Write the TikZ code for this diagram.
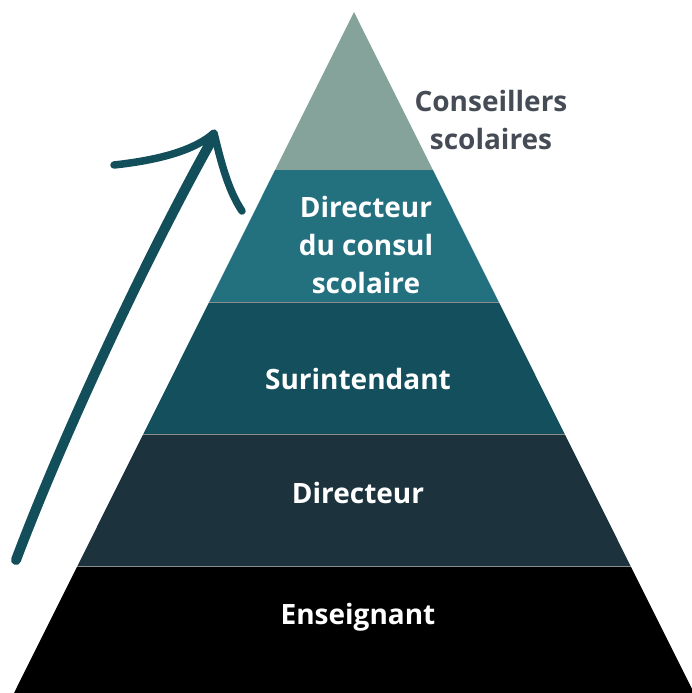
\documentclass[tikz,border=0pt]{standalone}
\usepackage{fontspec}
\setmainfont{Open Sans}
\usetikzlibrary{positioning}

\definecolor{conseilgreen}{HTML}{86A39B}
\definecolor{directeal}{HTML}{23717F}
\definecolor{surinteal}{HTML}{134F5C}
\definecolor{direcnavy}{HTML}{1C333E}
\definecolor{arrowink}{HTML}{124F5A}
\definecolor{labelgrey}{HTML}{464C55}

\tikzset{
  layer/.style={draw=white!55!black, line width=0.6pt},
  level/.style={text=white, font=\fontsize{28}{38}\selectfont\bfseries, align=center},
  brush/.style={draw=arrowink, line width=10pt, line cap=round, line join=round}
}

\begin{document}
\begin{tikzpicture}[x=1pt,y=-1pt]
\useasboundingbox (0,0) rectangle (692,693);
% layers of the pyramid, top to bottom
\fill[conseilgreen] (354,12) -- (432.9,170) -- (275.1,170) -- cycle;
\fill[directeal] (275.1,170) -- (432.9,170) -- (498.8,302) -- (209.2,302) -- cycle;
\fill[surinteal] (209.2,302) -- (498.8,302) -- (564.7,434) -- (143.3,434) -- cycle;
\fill[direcnavy] (143.3,434) -- (564.7,434) -- (630.6,566) -- (77.4,566) -- cycle;
\fill[black] (77.4,566) -- (630.6,566) -- (694,693) -- (14,693) -- cycle;
\draw[layer] (209.2,302) -- (498.8,302);
\draw[layer] (143.3,434) -- (564.7,434);
\draw[layer] (77.4,566) -- (630.6,566);

\node[level] (consul) at (366,245) {Directeur\\du consul\\scolaire};
\node[level] (surint) at (358,379) {Surintendant};
\node[level] (direc) at (358,493) {Directeur};
\node[level] (enseig) at (358,617) {Enseignant};
\node[level, text=labelgrey] (conseil) at (491,120) {Conseillers\\scolaires};

% the brush arrow
\draw[brush] (16,560) .. controls (65,430) and (150,250) .. (213,138);
\draw[brush, line width=7.5pt] (114,165) .. controls (160,160) and (195,150) .. (214,133)
  .. controls (221,162) and (228,190) .. (242,211);
\end{tikzpicture}
\end{document}
